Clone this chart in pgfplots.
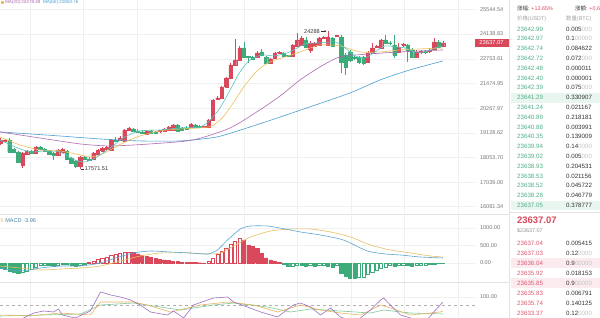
\documentclass[border=0pt]{standalone}
\usepackage{pgfplots}
\pgfplotsset{compat=1.18}
\usepackage{pgfplotstable}
\usetikzlibrary{arrows.meta}
\usepackage{fontspec}
\setmainfont{Liberation Sans}
\newfontfamily\cjk{Noto Sans CJK SC}

\definecolor{upc}{HTML}{D9485B}
\definecolor{dnc}{HTML}{3DAA7A}
\definecolor{askc}{HTML}{4FB087}
\definecolor{bidc}{HTML}{DD5A72}
\definecolor{ma5}{HTML}{5CC6C0}
\definecolor{ma10}{HTML}{EEBE5A}
\definecolor{ma30}{HTML}{B06AB3}
\definecolor{ma60}{HTML}{4A9FD2}
\definecolor{difc}{HTML}{5AA6D6}
\definecolor{deac}{HTML}{E8C060}
\definecolor{kc}{HTML}{E9B55E}
\definecolor{dc}{HTML}{7CCB9A}
\definecolor{jc}{HTML}{A070C0}
\definecolor{gridc}{HTML}{F0F0F0}
\definecolor{labc}{HTML}{7A7A7A}
\definecolor{qtyc}{HTML}{333333}
\definecolor{zc}{HTML}{C4C4C4}
\definecolor{hlg}{HTML}{E9F6EF}
\definecolor{hlr}{HTML}{FBEAEE}

\pgfplotstableread{
i o h l c u
0 18681 18903 18594 18814 1
1 18770 18858 18726 18814 1
2 18814 18903 18248 18291 0
3 18420 18464 18248 18291 0
4 18291 18334 17824 17866 0
5 17741 18291 17617 18248 1
6 18206 18377 18163 18334 1
7 18334 18377 18206 18248 0
8 18248 18550 18206 18507 1
9 18507 18550 18377 18420 0
10 18420 18464 18291 18334 0
11 18334 18377 18163 18206 0
12 18248 18291 17950 18163 0
13 18163 18420 18120 18377 1
14 18291 18464 18248 18420 1
15 18334 18377 17950 17993 0
16 18035 18078 17783 17824 0
17 17908 17950 17617 17700 0
18 17700 18120 17571.51 18078 1
19 18078 18120 17950 17993 0
20 17993 18078 17908 17955 0
21 17993 18291 17950 18248 1
22 18206 18420 18163 18377 1
23 18334 18507 18291 18464 1
24 18420 18550 18377 18507 1
25 18377 18858 18334 18814 1
26 18814 18947 18726 18770 0
27 18814 18991 18770 18903 1
28 18770 19307 18726 19261 1
29 19261 19397 19216 19352 1
30 19307 19352 19171 19216 0
31 19216 19307 19126 19180 0
32 19171 19261 19081 19130 0
33 19081 19261 19036 19216 1
34 19216 19261 19081 19126 0
35 19150 19216 19081 19110 0
36 19190 19250 19120 19230 1
37 19216 19330 19190 19284 1
38 19261 19440 19216 19397 1
39 19261 19535 19230 19489 1
40 19489 19535 19171 19216 0
41 19352 19397 19216 19261 0
42 19352 19420 19300 19310 0
43 19397 19581 19352 19535 1
44 19489 19535 19352 19397 0
45 19440 19480 19352 19397 0
46 19390 19460 19352 19430 1
47 19397 19765 19352 19719 1
48 19719 20716 19672 20667 1
49 20716 20862 20667 20764 1
50 20764 21358 20716 21308 1
51 21308 21814 21258 21763 1
52 21763 22543 21712 22438 1
53 22438 23851 22385 22703 1
54 22703 23463 22651 23353 1
55 23353 23684 22810 22864 0
56 22890 22918 22543 22840 0
57 22864 22918 22703 22757 0
58 22864 23189 22810 23080 1
59 23135 23298 22918 22972 0
60 22864 22918 22490 22543 0
61 22543 22810 22490 22757 1
62 22810 23135 22757 23080 1
63 23060 23189 23026 23110 1
64 23080 23135 22864 22918 0
65 22940 22990 22864 22900 0
66 22918 23574 22864 23518 1
67 23463 24190 23408 23795 1
68 23518 24020 23463 23907 1
69 23795 23963 23353 23408 0
70 23243 23739 23080 23630 1
71 23463 23684 23408 23630 1
72 23518 23963 23463 23907 1
73 23890 24020 23851 23940 1
74 23518 24288 23463 23963 1
75 23907 23963 23408 23463 0
76 24000 24076 23963 24050 1
77 23963 24076 22020 22597 0
78 22972 23080 21917 22333 0
79 23135 23243 22597 22703 0
80 22830 22918 22703 22790 0
81 22864 22918 22490 22597 0
82 22864 22918 22438 22543 0
83 22597 23189 22543 23080 1
84 23080 23628 23026 23353 1
85 23400 23518 23353 23440 1
86 23353 23851 23298 23795 1
87 23795 24076 23574 23628 0
88 23640 23739 23518 23600 0
89 23518 24076 22810 22972 0
90 23135 23628 23080 23408 1
91 23510 23628 23408 23550 1
92 23518 23574 22597 23243 0
93 23243 23353 22810 22864 0
94 22864 23243 22810 23135 1
95 23125 23243 23026 23165 1
96 23150 23243 23026 23110 0
97 23180 23353 23080 23220 1
98 23298 23907 23243 23684 1
99 23684 23795 23353 23408 0
100 23463 23739 23408 23637.07 1
}\candles

\pgfplotstableread{
i v f
0 -150 1
1 -180 1
2 -230 1
3 -260 1
4 -300 1
5 -260 0
6 -230 0
7 -180 0
8 -110 0
9 -60 0
10 -50 0
11 -70 1
12 -90 1
13 -60 0
14 -35 0
15 -45 1
16 -70 1
17 -100 1
18 -50 0
19 -20 0
20 20 0
21 60 0
22 100 0
23 140 0
24 180 0
25 230 0
26 250 0
27 270 0
28 300 0
29 320 0
30 300 1
31 260 1
32 230 1
33 200 1
34 170 1
35 140 1
36 110 1
37 90 1
38 70 1
39 55 1
40 40 1
41 25 1
42 15 1
43 12 1
44 10 1
45 8 1
46 6 1
47 40 0
48 150 0
49 250 0
50 340 0
51 430 0
52 530 0
53 620 0
54 720 0
55 660 1
56 520 1
57 470 1
58 420 1
59 280 1
60 150 1
61 90 1
62 40 1
63 12 1
64 -40 1
65 -100 1
66 -80 0
67 -60 0
68 -70 1
69 -90 1
70 -60 0
71 -100 1
72 -70 0
73 -60 0
74 -90 1
75 -110 1
76 -70 0
77 -290 1
78 -370 1
79 -430 1
80 -440 1
81 -420 0
82 -400 0
83 -330 0
84 -260 0
85 -200 0
86 -150 0
87 -110 0
88 -60 0
89 -90 1
90 -60 0
91 -50 0
92 -70 1
93 -90 1
94 -70 0
95 -60 0
96 -50 0
97 -40 0
98 -25 0
99 -15 0
100 -8 0
}\hist

\pgfplotsset{
  panel/.style={
    scale only axis, width=475bp, anchor=north west,
    xmin=-0.113, xmax=107.23,
    axis line style={draw=none},
    major tick length=0pt, minor tick length=0pt,
    xtick={6.67,18.76,30.85,42.94,55.03,67.12,79.21,91.3,103.4},
    xticklabels={},
    xmajorgrids, ymajorgrids,
    grid style={gridc, line width=0.6bp},
    yticklabel pos=right,
    yticklabel style={font=\fontsize{5.6}{6}\selectfont, text=labc, anchor=west, xshift=1.5bp},
  }
}

\begin{document}
\begin{tikzpicture}
\useasboundingbox (0,0) rectangle (600bp,-318bp);
\clip (0,0) rectangle (600bp,-318bp);
\fill[white] (0,0) rectangle (600bp,-318bp);

% ---------------- main price panel ----------------
\begin{axis}[panel, at={(0bp,0bp)}, height=213bp,
  ymode=log, ymin=15848.7, ymax=26139,
  ytick={16081.34,17039.00,18053.70,19128.62,20267.97,21474.95,22753.61,24138.83,25544.54},
  yticklabels={16081.34,17039.00,18053.70,19128.62,20267.97,21474.95,22753.61,24138.83,25544.54}]

\pgfplotsinvokeforeach{0,...,100}{%
  \pgfplotstablegetelem{#1}{o}\of\candles\let\cO\pgfplotsretval
  \pgfplotstablegetelem{#1}{h}\of\candles\let\cH\pgfplotsretval
  \pgfplotstablegetelem{#1}{l}\of\candles\let\cL\pgfplotsretval
  \pgfplotstablegetelem{#1}{c}\of\candles\let\cC\pgfplotsretval
  \pgfplotstablegetelem{#1}{u}\of\candles\let\cU\pgfplotsretval
  \ifnum\cU=1 \def\cCol{upc}\else\def\cCol{dnc}\fi
  \pgfmathsetmacro\xa{#1-0.38}\pgfmathsetmacro\xb{#1+0.38}%
  \edef\tmp{\noexpand\addplot[draw=\cCol,line width=0.55bp] coordinates {(#1,\cL) (#1,\cH)};%
    \noexpand\addplot[draw=\cCol,fill=\cCol,line width=0.3bp] coordinates {(\xa,\cO) (\xb,\cO) (\xb,\cC) (\xa,\cC) (\xa,\cO)};}%
  \tmp
}

\addplot[ma60, line width=0.6bp, smooth, tension=0.4] coordinates {(-0.1,19171) (6.7,19081) (13.5,18991) (22.5,18858) (31.5,18770) (40.6,18770) (48.9,18947) (56.4,19397) (63.2,19858) (69.9,20331) (79,21010) (85.8,21661) (92.5,22176) (100,22650)};
\addplot[ma30, line width=0.6bp, smooth, tension=0.4] coordinates {(-0.1,19171) (8.9,18903) (18,18638) (24.8,18550) (33.8,18638) (43.5,18814) (51.9,19352) (58.6,20188) (63.2,20862) (67.7,21661) (72.2,22333) (76.7,22864) (83.5,23026) (90.3,23135) (100,23243)};
\addplot[ma10, line width=0.6bp, smooth, tension=0.4] coordinates {(-0.1,18947) (4.4,18594) (8.9,18377) (13.5,18334) (18,18163) (20.2,18078) (22.5,18163) (24.8,18377) (28.1,18726) (31.5,18991) (36,19216) (40.6,19307) (45.1,19352) (47.8,19443) (50.1,19812) (52.3,20426) (55.3,21408) (58.2,22176) (60.9,22597) (64.3,22864) (67.7,23135) (72.2,23518) (76.7,23463) (81.2,23135) (85.8,23135) (90.3,23243) (94.8,23298) (100,23353)};
\addplot[ma5, line width=0.6bp, smooth, tension=0.4] coordinates {(-0.1,18814) (3.3,18507) (6.7,18291) (10,18334) (13.5,18291) (16.8,17950) (19.1,17866) (21.4,18035) (24.8,18464) (28.1,18947) (31.5,19216) (36,19261) (40.6,19352) (45.1,19397) (47.4,19719) (49.6,20283) (51.9,21158) (54.1,22072) (56.4,22703) (59.1,22972) (62,22918) (65.4,23135) (68.8,23574) (72.2,23628) (75.6,23684) (77.9,23353) (80.1,22918) (82.4,22810) (84.6,23135) (86.9,23463) (89.2,23408) (91.4,23353) (93.7,23135) (95.9,23135) (98.2,23353) (100,23463)};

\draw[qtyc, line width=0.5bp] ([xshift=0.5bp]axis cs:18,17571.51) -- ([xshift=3.5bp]axis cs:18,17571.51);
\node[anchor=west, inner sep=0, font=\fontsize{5.6}{6}\selectfont, text=qtyc] at ([xshift=4.5bp]axis cs:18,17571.51) {17571.51};
\node[anchor=east, inner sep=0, font=\fontsize{5.6}{6}\selectfont, text=qtyc] at ([xshift=-8bp]axis cs:74,24288) {24288};
\draw[qtyc, line width=0.5bp, -{Stealth[length=2bp,width=2bp]}] ([xshift=-7bp]axis cs:74,24288) -- ([xshift=-1.5bp]axis cs:74,24288);
\end{axis}

% ---------------- MACD panel ----------------
\begin{axis}[panel, at={(0bp,-214bp)}, height=68bp,
  ymin=-543, ymax=1400,
  ytick={0,500,1000}, yticklabels={0.00,500.00,1000.00}]
\pgfplotsinvokeforeach{0,...,100}{%
  \pgfplotstablegetelem{#1}{v}\of\hist\let\hV\pgfplotsretval
  \pgfplotstablegetelem{#1}{f}\of\hist\let\hF\pgfplotsretval
  \ifdim\hV pt<0pt \def\hCol{dnc}\else\def\hCol{upc}\fi
  \ifnum\hF=1 \edef\hFill{\hCol}\else\def\hFill{white}\fi
  \pgfmathsetmacro\xa{#1-0.36}\pgfmathsetmacro\xb{#1+0.36}%
  \edef\tmp{\noexpand\addplot[draw=\hCol,fill=\hFill,line width=0.4bp] coordinates {(\xa,0) (\xb,0) (\xb,\hV) (\xa,\hV) (\xa,0)};}%
  \tmp
}
\addplot[deac, line width=0.6bp, smooth, tension=0.4] coordinates {(-0.1,-86) (4.5,-143) (9,-200) (13.6,-171) (18.1,-143) (22.6,-86) (27.1,57) (31.6,200) (36.2,286) (42.9,286) (46.8,257) (49.7,286) (53.1,514) (56.5,743) (61,914) (65.5,971) (70.1,971) (74.6,886) (79.1,743) (83.6,514) (88.1,371) (92.7,286) (97.2,200) (100,171)};
\addplot[difc, line width=0.6bp, smooth, tension=0.4] coordinates {(-0.1,-143) (4.5,-229) (9,-143) (13.6,-86) (18.1,-86) (22.6,0) (26,143) (30,286) (33.9,343) (38.4,314) (42.9,286) (46.8,257) (49,371) (51.3,657) (54.2,971) (56.5,1057) (60.3,1057) (64.4,971) (67.8,886) (72.3,800) (77.5,657) (82.9,343) (87,257) (90.4,229) (94.9,171) (100,143)};
\end{axis}

% ---------------- KDJ panel ----------------
\begin{axis}[panel, at={(0bp,-282bp)}, height=48bp,
  ymin=17.5, ymax=137.5,
  ytick={100}, yticklabels={100.00}]
\addplot[labc!60, dashed, line width=0.5bp] coordinates {(-0.113,80) (107.23,80)};
\addplot[dc, line width=0.6bp] coordinates {(-0.1,52.5) (9,55) (18.1,57.5) (22.6,80) (30,85) (34.6,77.5) (40.7,67.5) (48.1,80) (52.7,85) (60.3,75) (65.5,62.5) (70.1,70) (76.8,65) (83.6,60) (86.6,67.5) (92.7,60) (100,57.5)};
\addplot[kc, line width=0.6bp] coordinates {(-0.1,55) (6.8,52.5) (13.6,60) (20.3,55) (22.6,87.5) (30,87.5) (33.2,80) (38.4,62.5) (45.2,80) (51.3,87.5) (57.2,80) (62.6,62.5) (67.8,80) (72.3,67.5) (76.8,60) (81.4,55) (85.9,80) (88.1,72.5) (92.7,55) (99.4,62.5) (100,65)};
\addplot[jc, line width=0.6bp] coordinates {(-0.1,47.5) (3.4,37.5) (7.5,60) (9.7,65) (12,62.5) (13.1,70) (14,55) (16.9,47.5) (20.3,65) (22.6,112.5) (24.9,105) (27.1,100) (29.4,92.5) (31.6,80) (33.9,62.5) (37.7,55) (39.1,65) (41.4,47.5) (43.6,80) (48.1,97.5) (51.3,100) (52.7,87.5) (55.8,75) (58.8,62.5) (62.6,50) (66.2,80) (67.8,85) (70.1,75) (72.3,55) (74.6,72.5) (76.8,50) (80.2,37.5) (83.6,67.5) (85.9,92.5) (86.6,97.5) (88.1,80) (90.4,55) (92.7,47.5) (96,37.5) (97.9,62.5) (100,87.5)};
\end{axis}

% ---------------- decorations, labels and order book ----------------
\begin{scope}[x=1bp,y=-1bp]
\draw[gray!22, line width=0.6bp] (0,214) -- (509,214);
\draw[gray!22, line width=0.6bp] (0,282) -- (509,282);
\draw[gray!22, line width=0.6bp] (509.5,0) -- (509.5,318);
\draw[gray!22, line width=0.6bp] (509.5,212) -- (600,212);

% MA legend line at the very top
\node[anchor=west, inner sep=0, font=\fontsize{4.6}{5}\selectfont] at (1,2.6)
  {\textcolor{ma10}{\rule{2.6bp}{2.6bp}}\ \textcolor{ma30}{MA(30):22478.48}\ \ \textcolor{ma60}{MA(60):21850.76}};
% MACD label
\node[anchor=west, inner sep=0, font=\fontsize{5.6}{6}\selectfont] at (0.5,220.5)
  {\textcolor{deac}{6}\ \textcolor{difc!80!black}{MACD -3.96}};

% current price tag
\fill[upc] (474.5,38.8) rectangle (508.5,47.2);
\node[inner sep=0, text=white, font=\fontsize{5.8}{6}\selectfont] at (491.5,43) {23637.07};

% order book highlights
\fill[hlg] (511,92.7) rectangle (600,102.5);
\fill[hlg] (511,200.5) rectangle (600,210.3);
\fill[hlr] (511,258.3) rectangle (600,268.3);
\fill[hlr] (511,278.3) rectangle (600,288.3);

\tikzset{ob/.style={anchor=west, inner sep=0, font=\fontsize{6.2}{7}\selectfont}}
\tikzset{obh/.style={anchor=west, inner sep=0, font=\fontsize{5.4}{6}\selectfont}}

\node[obh, text=qtyc] at (517,8) {{\cjk 涨幅:} \textcolor{upc}{+12.65\%}};
\node[obh, text=qtyc] at (575,8) {{\cjk 涨额:} \textcolor{upc}{+0.6}};
\node[obh, text=labc!70] at (517,19) {{\cjk 价格}(USDT)};
\node[obh, text=labc!70] at (566,19) {{\cjk 数量}(BTC)};

\newcommand\ask[3]{\node[ob, text=askc] at (517,#1) {#2}; \node[ob, text=qtyc] at (566,#1) {#3};}
\newcommand\bid[3]{\node[ob, text=bidc] at (517,#1) {#2}; \node[ob, text=qtyc] at (566,#1) {#3};}
\ask{29.0}{23642.99}{0.005\textcolor{zc}{000}}
\ask{38.8}{23642.97}{0.1\textcolor{zc}{00000}}
\ask{48.6}{23642.74}{0.084622}
\ask{58.4}{23642.72}{0.072\textcolor{zc}{000}}
\ask{68.2}{23642.48}{0.000011}
\ask{78.0}{23642.40}{0.000001}
\ask{87.8}{23642.39}{0.075\textcolor{zc}{000}}
\ask{97.6}{23641.29}{0.330907}
\ask{107.4}{23641.24}{0.021167}
\ask{117.2}{23640.89}{0.218181}
\ask{127.0}{23640.88}{0.003991}
\ask{136.8}{23640.35}{0.139009}
\ask{146.6}{23639.94}{0.14\textcolor{zc}{0000}}
\ask{156.4}{23639.02}{0.005\textcolor{zc}{000}}
\ask{166.2}{23638.93}{0.204531}
\ask{176.0}{23638.53}{0.021156}
\ask{185.8}{23638.52}{0.045722}
\ask{195.6}{23638.28}{0.046779}
\ask{205.4}{23637.05}{0.378777}

\node[anchor=west, inner sep=0, text=upc, font=\fontsize{9.5}{10}\selectfont\bfseries] at (517,220) {23637.07};
\node[obh, text=labc!80] at (517,230.5) {\$23637.07};

\bid{243.3}{23637.04}{0.005415}
\bid{253.3}{23637.03}{0.12\textcolor{zc}{0000}}
\bid{263.3}{23636.04}{0.9\textcolor{zc}{00000}}
\bid{273.3}{23635.92}{0.018153}
\bid{283.3}{23635.85}{0.9\textcolor{zc}{00000}}
\bid{293.3}{23635.83}{0.006791}
\bid{303.3}{23635.74}{0.140125}
\bid{313.3}{23633.37}{0.12\textcolor{zc}{0000}}
\end{scope}
\end{tikzpicture}
\end{document}
